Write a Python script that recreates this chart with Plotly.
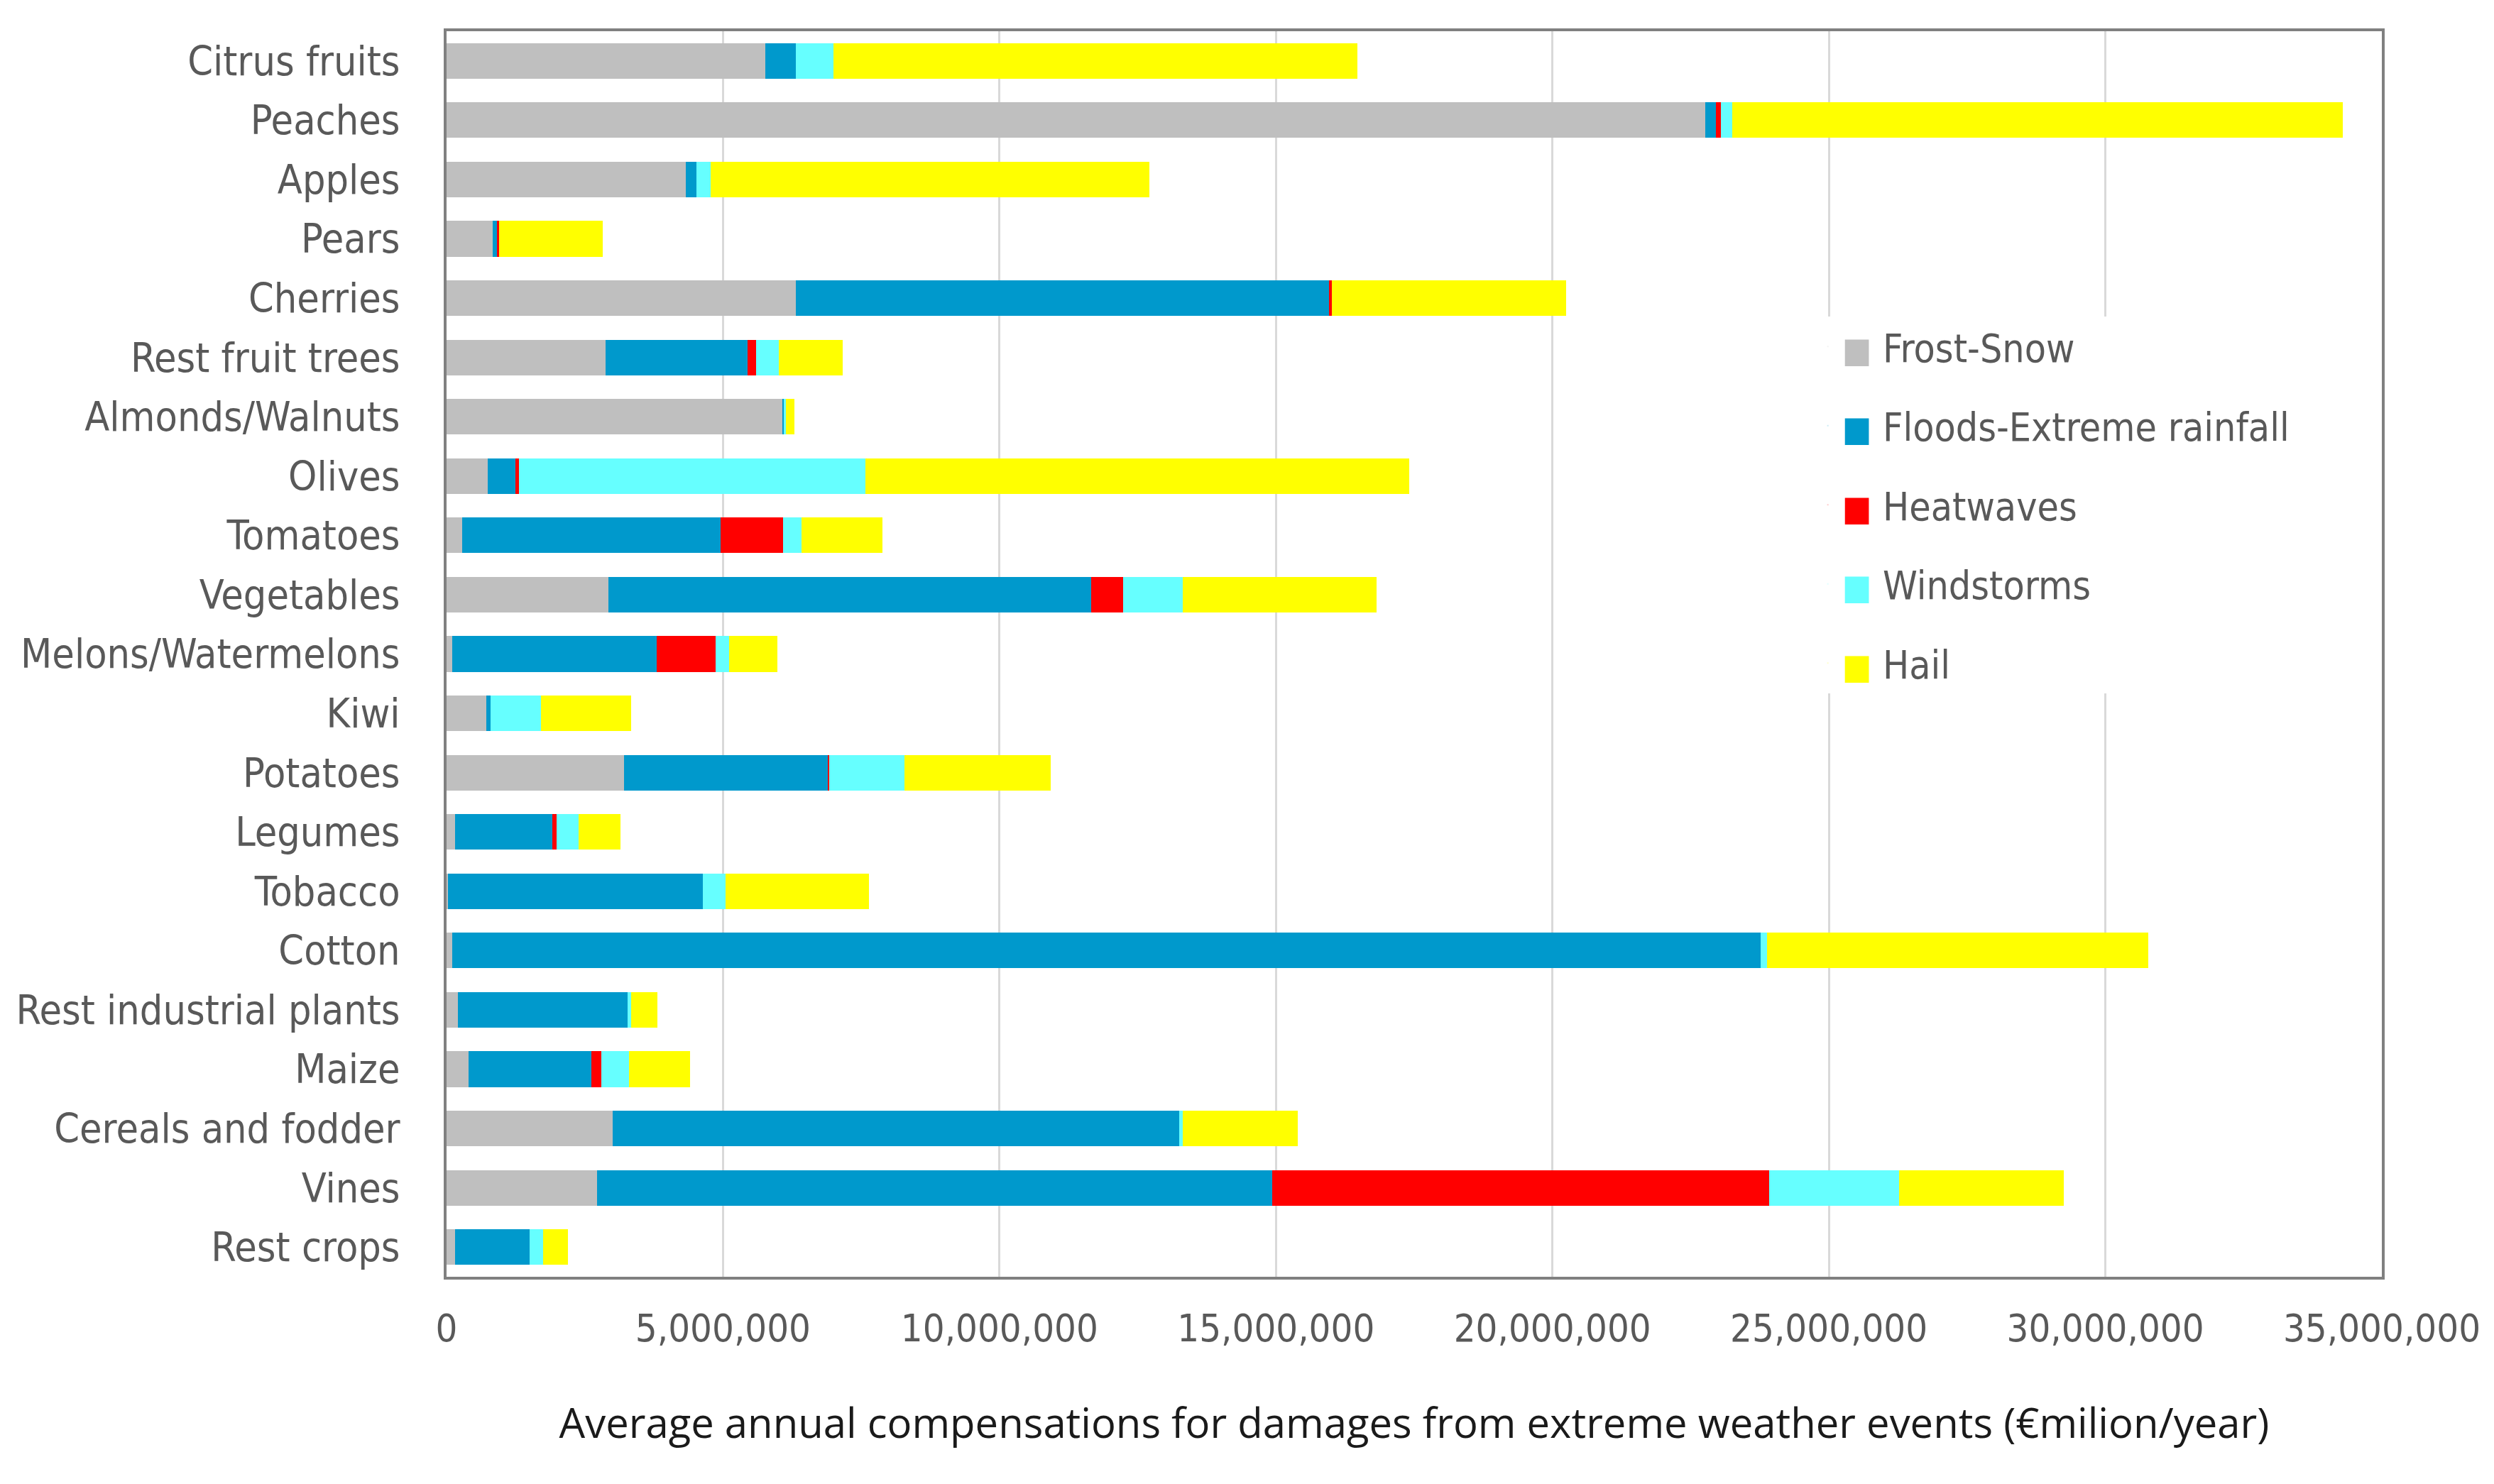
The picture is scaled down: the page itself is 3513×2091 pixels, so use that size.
import plotly.graph_objects as go

# crop categories, top to bottom
crops = ["Citrus fruits", "Peaches", "Apples", "Pears", "Cherries", "Rest fruit trees",
         "Almonds/Walnuts", "Olives", "Tomatoes", "Vegetables", "Melons/Watermelons",
         "Kiwi", "Potatoes", "Legumes", "Tobacco", "Cotton", "Rest industrial plants",
         "Maize", "Cereals and fodder", "Vines", "Rest crops"]

# values in million
frost_snow = [5.77, 22.77, 4.33, 0.84, 6.32, 2.87, 6.07, 0.75, 0.28, 2.93, 0.10,
              0.72, 3.21, 0.16, 0.03, 0.10, 0.21, 0.40, 3.00, 2.72, 0.16]
floods = [0.55, 0.19, 0.19, 0.07, 9.64, 2.58, 0.03, 0.49, 4.67, 8.73, 3.70,
          0.08, 3.68, 1.75, 4.61, 23.67, 3.07, 2.22, 10.25, 12.21, 1.34]
heatwaves = [0.0, 0.09, 0.0, 0.04, 0.05, 0.15, 0.0, 0.07, 1.13, 0.58, 1.06,
             0.0, 0.03, 0.08, 0.0, 0.0, 0.0, 0.18, 0.0, 8.99, 0.0]
windstorms = [0.68, 0.20, 0.25, 0.0, 0.0, 0.41, 0.04, 6.27, 0.34, 1.07, 0.25,
              0.91, 1.36, 0.40, 0.41, 0.11, 0.06, 0.50, 0.06, 2.35, 0.24]
hail = [9.47, 11.05, 7.94, 1.88, 4.24, 1.16, 0.15, 9.83, 1.46, 3.51, 0.87,
        1.63, 2.65, 0.75, 2.59, 6.89, 0.47, 1.10, 2.09, 2.98, 0.45]

series = [("Frost-Snow", frost_snow, "#BFBFBF"),
          ("Floods-Extreme rainfall", floods, "#0099CC"),
          ("Heatwaves", heatwaves, "#FF0000"),
          ("Windstorms", windstorms, "#66FFFF"),
          ("Hail", hail, "#FFFF00")]

fig = go.Figure()
for name, vals, color in series:
    fig.add_trace(go.Bar(
        y=crops, x=[v * 1e6 for v in vals], name=name, orientation="h",
        marker=dict(color=color, line=dict(width=0)),
        legendgroup=name, showlegend=False))
    # legend-only entry: plotly caps swatch size, so the square is a coloured glyph
    fig.add_trace(go.Scatter(
        x=[None], y=[None], mode="markers", legendgroup=name,
        name=f'<span style="color:{color};font-size:49px">■</span> {name}',
        marker=dict(symbol="square", size=1, color=color, opacity=0)))

tick_font = dict(family="DejaVu Sans Condensed, sans-serif", size=57, color="#595959")

fig.update_layout(
    barmode="stack",
    bargap=0.4,
    width=3513, height=2091,
    margin=dict(l=621, r=166, t=36, b=300),
    paper_bgcolor="white", plot_bgcolor="white",
    legend=dict(x=0.7064, y=0.771, xanchor="left", yanchor="top",
                bgcolor="white", font=dict(tick_font, size=55), traceorder="grouped",
                tracegroupgap=37, itemwidth=30),
)

fig.update_xaxes(
    range=[0, 35e6], tickvals=[i * 5e6 for i in range(8)], tickformat=",",
    showgrid=True, gridcolor="#D9D9D9", gridwidth=3,
    showline=True, linecolor="#808080", linewidth=4, mirror=True,
    ticks="", ticklabelstandoff=22, tickfont=dict(tick_font, size=54),
    zeroline=False,
    title=dict(text="Average annual compensations for damages from extreme weather events (€milion/year)",
               font=dict(family="Open Sans, sans-serif", size=58, color="#1a1a1a"),
               standoff=85),
)
fig.update_yaxes(
    autorange="reversed", showgrid=False,
    showline=True, linecolor="#808080", linewidth=4, mirror=True,
    ticks="", ticklabelstandoff=50, tickfont=tick_font,
)

fig.write_html("out.html")
